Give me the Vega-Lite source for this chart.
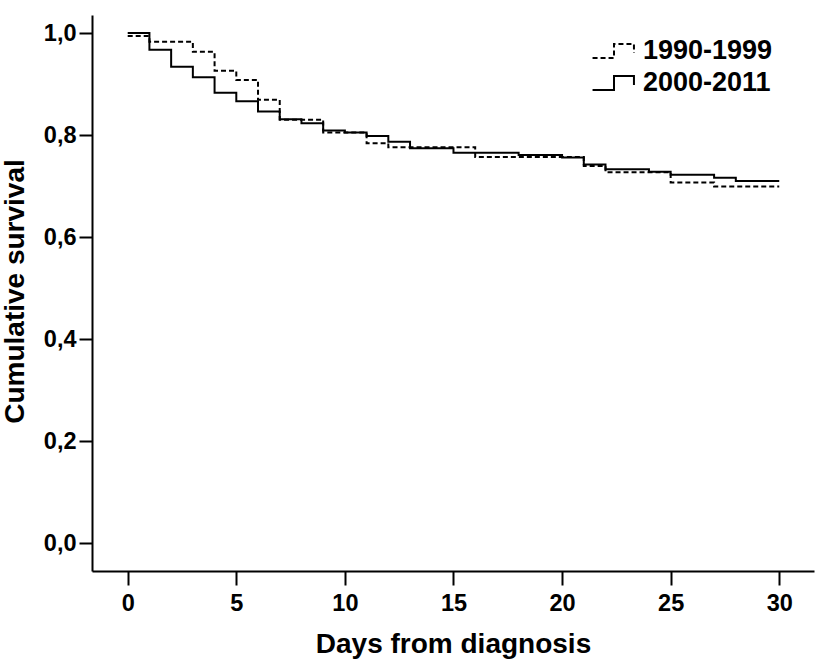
{
  "$schema": "https://vega.github.io/schema/vega-lite/v6.json",
  "width": 722,
  "height": 556,
  "autosize": {"type": "none"},
  "padding": {"left": 92, "top": 15, "right": 2, "bottom": 89},
  "background": "white",
  "config": {"view": {"stroke": null}, "font": "Liberation Sans"},
  "data": {"values": [
    {"period": "1990-1999", "day": 0, "surv": 0.994},
    {"period": "1990-1999", "day": 1, "surv": 0.983},
    {"period": "1990-1999", "day": 3, "surv": 0.963},
    {"period": "1990-1999", "day": 4, "surv": 0.926},
    {"period": "1990-1999", "day": 5, "surv": 0.908},
    {"period": "1990-1999", "day": 6, "surv": 0.869},
    {"period": "1990-1999", "day": 7, "surv": 0.830},
    {"period": "1990-1999", "day": 9, "surv": 0.805},
    {"period": "1990-1999", "day": 11, "surv": 0.784},
    {"period": "1990-1999", "day": 12, "surv": 0.776},
    {"period": "1990-1999", "day": 16, "surv": 0.757},
    {"period": "1990-1999", "day": 21, "surv": 0.739},
    {"period": "1990-1999", "day": 22, "surv": 0.727},
    {"period": "1990-1999", "day": 25, "surv": 0.707},
    {"period": "1990-1999", "day": 27, "surv": 0.699},
    {"period": "1990-1999", "day": 30, "surv": 0.699},
    {"period": "2000-2011", "day": 0, "surv": 1.0},
    {"period": "2000-2011", "day": 1, "surv": 0.967},
    {"period": "2000-2011", "day": 2, "surv": 0.934},
    {"period": "2000-2011", "day": 3, "surv": 0.913},
    {"period": "2000-2011", "day": 4, "surv": 0.883},
    {"period": "2000-2011", "day": 5, "surv": 0.866},
    {"period": "2000-2011", "day": 6, "surv": 0.846},
    {"period": "2000-2011", "day": 7, "surv": 0.831},
    {"period": "2000-2011", "day": 8, "surv": 0.823},
    {"period": "2000-2011", "day": 9, "surv": 0.809},
    {"period": "2000-2011", "day": 10, "surv": 0.805},
    {"period": "2000-2011", "day": 11, "surv": 0.798},
    {"period": "2000-2011", "day": 12, "surv": 0.787},
    {"period": "2000-2011", "day": 13, "surv": 0.774},
    {"period": "2000-2011", "day": 15, "surv": 0.765},
    {"period": "2000-2011", "day": 18, "surv": 0.761},
    {"period": "2000-2011", "day": 20, "surv": 0.756},
    {"period": "2000-2011", "day": 21, "surv": 0.742},
    {"period": "2000-2011", "day": 22, "surv": 0.733},
    {"period": "2000-2011", "day": 24, "surv": 0.728},
    {"period": "2000-2011", "day": 25, "surv": 0.722},
    {"period": "2000-2011", "day": 27, "surv": 0.716},
    {"period": "2000-2011", "day": 28, "surv": 0.710},
    {"period": "2000-2011", "day": 30, "surv": 0.710}
  ]},
  "mark": {"type": "line", "interpolate": "step-after", "strokeWidth": 2, "color": "black", "clip": true},
  "encoding": {
    "x": {
      "field": "day", "type": "quantitative",
      "scale": {"domain": [-1.644, 31.6], "nice": false, "zero": false},
      "axis": {
        "values": [0, 5, 10, 15, 20, 25, 30], "grid": false,
        "domainColor": "black", "domainWidth": 2,
        "tickColor": "black", "tickWidth": 2, "tickSize": 14,
        "labelFontSize": 23.5, "labelFontWeight": "bold", "labelColor": "black", "labelPadding": 6, "labelFlush": false,
        "title": "Days from diagnosis", "titleFontSize": 28, "titleFontWeight": "bold", "titleColor": "black", "titlePadding": 16
      }
    },
    "y": {
      "field": "surv", "type": "quantitative",
      "scale": {"domain": [-0.0549, 1.0353], "nice": false, "zero": false},
      "axis": {
        "values": [0, 0.2, 0.4, 0.6, 0.8, 1.0], "grid": false,
        "labelExpr": "replace(format(datum.value, '.1f'), '.', ',')",
        "domainColor": "black", "domainWidth": 2,
        "tickColor": "black", "tickWidth": 2, "tickSize": 13,
        "labelFontSize": 23.5, "labelFontWeight": "bold", "labelColor": "black", "labelPadding": 3,
        "title": "Cumulative survival", "titleFontSize": 28, "titleFontWeight": "bold", "titleColor": "black",
        "titleX": -63, "titleY": 276
      }
    },
    "strokeDash": {
      "field": "period", "type": "nominal",
      "scale": {"domain": ["1990-1999", "2000-2011"], "range": [[5, 3], [1, 0]]},
      "legend": {
        "orient": "none", "legendX": 506, "legendY": 20, "title": null,
        "labelFontSize": 27, "labelFontWeight": "bold", "labelColor": "black",
        "symbolType": "M-1.43,0.47L0,0.47L0,-0.47L1.33,-0.47L1.33,0.14",
        "symbolSize": 900, "symbolStrokeWidth": 2, "symbolStrokeColor": "black", "symbolFillColor": "transparent",
        "labelOffset": 13, "rowPadding": 3
      }
    }
  }
}
